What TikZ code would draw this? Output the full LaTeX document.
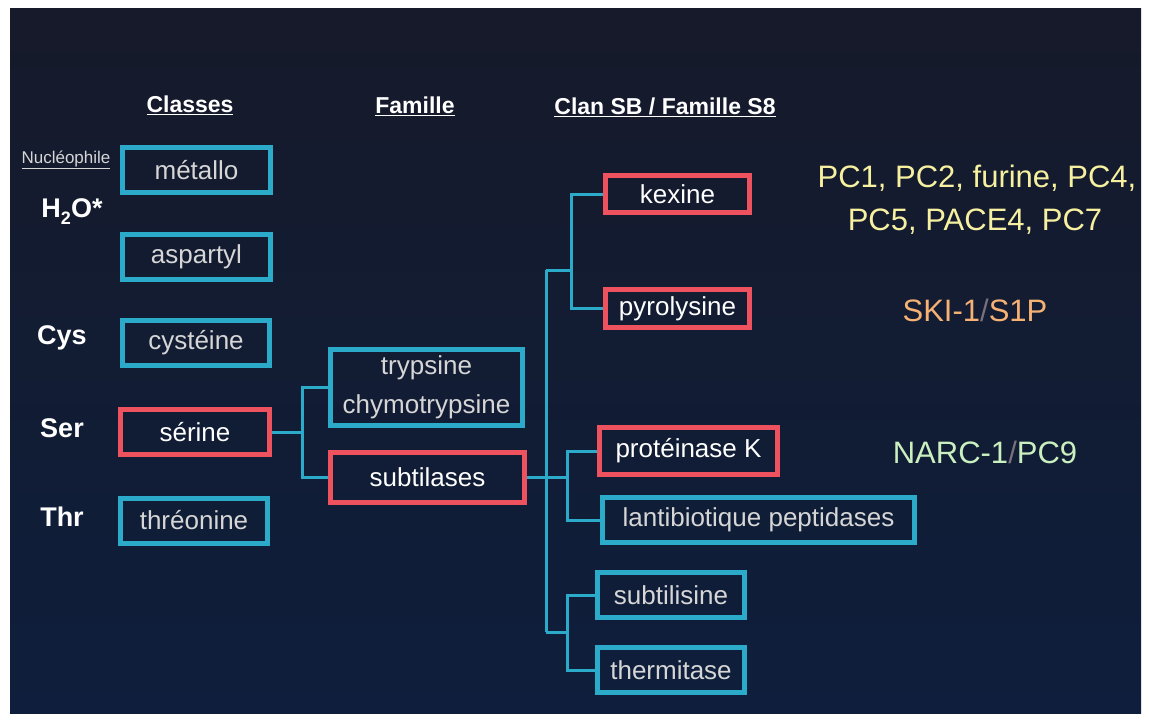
\documentclass[tikz,border=0pt]{standalone}
\usepackage{fontspec}
\setmainfont{Liberation Sans}
\usetikzlibrary{backgrounds}
\definecolor{fondhaut}{RGB}{22,26,42}
\definecolor{fondbas}{RGB}{14,30,60}
\definecolor{cyanb}{RGB}{44,170,202}
\definecolor{rougeb}{RGB}{238,82,94}
\definecolor{grisb}{RGB}{214,214,214}
\definecolor{jauneb}{RGB}{246,240,160}
\definecolor{orangeb}{RGB}{246,178,116}
\definecolor{vertb}{RGB}{202,240,192}
\definecolor{barre}{RGB}{120,112,122}
\begin{document}
\begin{tikzpicture}[x=1pt,y=-1pt,line join=miter,
	boite/.style={draw,line width=5pt,inner sep=0pt,minimum height=45,align=center,font=\fontsize{26}{39}\selectfont},
	cbox/.style={boite,draw=cyanb,text=grisb},
	rbox/.style={boite,draw=rougeb,text=white},
	titre/.style={text=white,font=\bfseries\fontsize{23}{27}\selectfont},
	acide/.style={text=white,font=\bfseries\fontsize{27}{30}\selectfont},
	nom/.style={font=\fontsize{31}{36}\selectfont},
	lien/.style={cyanb,line width=3pt}]
	\useasboundingbox (0,0) rectangle (1149,721);
	%Titres des colonnes
	\node[titre] (hcl) at (190,105) {\underline{Classes}};
	\node[titre] (hfa) at (415,106) {\underline{Famille}};
	\node[titre] (hsb) at (665,107) {\underline{Clan SB / Famille S8}};
	\node[text=grisb,font=\fontsize{17}{20}\selectfont] (nuc) at (66,160) {\underline{Nucléophile}};
	\node[acide] (h2o) at (72,212) {H\raisebox{-7pt}{\fontsize{18}{18}\selectfont 2}O*};
	\foreach \n/\y/\t in {cysl/338/Cys,serl/428/Ser,thrl/517/Thr}{
	\node[acide] (\n) at (62,\y) {\t};}
	%Boites
	\foreach \n/\x/\y/\w/\t in {met/196.5/170/148/métallo,asp/196.5/257/148/aspartyl,cys/196/343/147/cystéine,thr/194/520.5/147/thréonine,lant/758.5/520/312/lantibiotique peptidases,subl/671/595/147/subtilisine,therm/671/670/147/thermitase}{
	\node[cbox,minimum width=\w] (\n) at (\x,\y) {\t};}
	\foreach \n/\x/\y/\w/\h/\t in {ser/195/432/149/45/sérine,subt/427.5/477.5/194/50/subtilases,kex/677.5/194/144/37/kexine,pyr/677.5/308.5/144/38/pyrolysine,prot/688.5/451/178/47/protéinase K}{
	\node[rbox,minimum width=\w,minimum height=\h] (\n) at (\x,\y) {\t};}
	\node[cbox,minimum width=192,minimum height=76] (tryp) at (426.5,387.5) {trypsine\\chymotrypsine};
	%Enzymes
	\node[nom,text=jauneb] (pca) at (977,178) {PC1, PC2, furine, PC4,};
	\node[nom,text=jauneb] (pcb) at (975,222) {PC5, PACE4, PC7};
	\node[nom,text=orangeb] (ski) at (975,310) {SKI-1{\color{barre}/}S1P};
	\node[nom,text=vertb] (narc) at (985,452) {NARC-1{\color{barre}/}PC9};
	\begin{scope}[on background layer]
	\fill[white] (0,0) rectangle (1149,721);
	\shade[top color=fondhaut,bottom color=fondbas] (10,8) rectangle (1141,713);
	\path (302,432) coordinate (jser) (546,270) coordinate (jh) (546,632) coordinate (jb)
	(571,270) coordinate (jkex) (567,477.5) coordinate (jprot) (567,632) coordinate (jsubl);
	\draw[lien] (ser.east)--(jser) (tryp.west)-|(jser)|-(subt.west);
	\draw[lien] (subt.east)--(jprot) (prot.west)-|(jprot)|-(lant.west);
	\draw[lien] (jh)--(jb) (jh)--(jkex) (jb)--(jsubl);
	\draw[lien] (kex.west)-|(jkex)|-(pyr.west);
	\draw[lien] (subl.west)-|(jsubl)|-(therm.west);
	\end{scope}
\end{tikzpicture}
\end{document}
